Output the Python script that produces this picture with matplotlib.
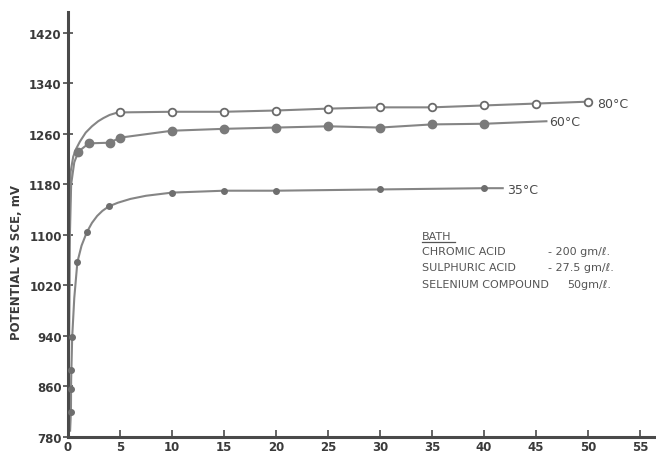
import matplotlib
matplotlib.use('Agg')
import matplotlib.pyplot as plt

# 80 C - open circles
x80 = [5, 10, 15, 20, 25, 30, 35, 40, 45, 50]
y80 = [1294, 1295, 1295, 1297, 1300, 1302, 1302, 1305, 1308, 1311]
# hand drawn curve
c80_x = [0.05, 0.1, 0.15, 0.25, 0.5, 0.8, 1.15, 1.7, 2.3, 2.9, 3.4, 4.0, 4.6, 5,
         10, 15, 20, 25, 30, 35, 40, 45, 50]
c80_y = [800, 950, 1120, 1200, 1224, 1237, 1248, 1262, 1272, 1280, 1285, 1290, 1293, 1294,
         1295, 1295, 1297, 1300, 1302, 1302, 1305, 1308, 1311]

# 60 C - filled circles
x60 = [1, 2, 4, 5, 10, 15, 20, 25, 30, 35, 40]
y60 = [1232, 1245, 1246, 1254, 1265, 1268, 1270, 1272, 1270, 1275, 1276]
c60_x = [0.05, 0.1, 0.15, 0.3, 0.6, 1, 2, 4, 5, 10, 15, 20, 25, 30, 35, 40, 46]
c60_y = [800, 930, 1080, 1180, 1215, 1232, 1245, 1246, 1254, 1265, 1268, 1270, 1272, 1270, 1275, 1276, 1280]

# 35 C - small dots
x35 = [0.3, 0.3, 0.3, 0.4, 0.9, 1.8, 3.9, 10, 15, 20, 30, 40]
y35 = [820, 856, 886, 938, 1057, 1104, 1145, 1167, 1170, 1170, 1172, 1174]
c35_x = [0.2, 0.28, 0.3, 0.4, 0.6, 0.9, 1.3, 1.8, 2.3, 2.8, 3.3, 3.9, 4.8, 6, 7.5, 10,
         15, 20, 30, 40, 41.8]
c35_y = [790, 820, 870, 938, 1000, 1057, 1083, 1104, 1119, 1130, 1138, 1145, 1151, 1157, 1162, 1167,
         1170, 1170, 1172, 1174, 1174]

xticks = [0, 5, 10, 15, 20, 25, 30, 35, 40, 45, 50, 55]
yticks = [780, 860, 940, 1020, 1100, 1180, 1260, 1340, 1420]

bath_names = ['CHROMIC ACID', 'SULPHURIC ACID', 'SELENIUM COMPOUND']
bath_amounts = ['- 200 gm/ℓ.', '- 27.5 gm/ℓ.', '50gm/ℓ.']

line_col = '#858585'
ink = '#4a4a4a'

fig = plt.figure(figsize=[6.56, 4.56], dpi=100)
ax = fig.add_axes([0.1037, 0.0395, 0.8957, 0.932])

ax.plot(c80_x, c80_y, color=line_col, lw=1.5, zorder=2)
ax.plot(c60_x, c60_y, color=line_col, lw=1.5, zorder=2)
ax.plot(c35_x, c35_y, color=line_col, lw=1.5, zorder=2)

ax.plot(x80, y80, 'o', ms=5.5, mfc='white', mec='#6a6a6a', mew=1.3, zorder=3)
ax.plot(x60, y60, 'o', ms=6, color='#7a7a7a', zorder=3)
ax.plot(x35, y35, 'o', ms=4, color='#6e6e6e', zorder=3)

ax.set_xlim(0, 56.5)
ax.set_ylim(780, 1453)

for s in ['top', 'right']:
    ax.spines[s].set_visible(False)
for s in ['left', 'bottom']:
    ax.spines[s].set_color(ink)
    ax.spines[s].set_linewidth(2.2)

ax.set_xticks(xticks)
ax.set_yticks(yticks)
ax.tick_params(axis='x', direction='in', length=5, width=1.2, color=ink, pad=2,
               labelsize=8.5, labelcolor='#3a3a3a')
ax.tick_params(axis='y', direction='inout', length=7, width=1.2, color=ink, pad=1,
               labelsize=8.5, labelcolor='#3a3a3a')
for lab in ax.get_xticklabels() + ax.get_yticklabels():
    lab.set_fontweight('bold')

fig.text(17 / 656, 1 - 262 / 456, 'POTENTIAL VS SCE, mV', rotation=90, ha='center', va='center',
         fontsize=8.5, fontweight='bold', color='#3a3a3a')

ax.text(50.9, 1308, '80°C', fontsize=9, color='#4a4a4a', va='center')
ax.text(46.3, 1280, '60°C', fontsize=9, color='#4a4a4a', va='center')
ax.text(42.2, 1172, '35°C', fontsize=9, color='#4a4a4a', va='center')

# bath box
ax.text(34.0, 1098, 'BATH', fontsize=8, color='#555555', va='center')
ax.plot([34.0, 37.2], [1088, 1088], color='#555555', lw=0.9)
rows = [1075, 1049, 1022]
for i in range(3):
    ax.text(34.0, rows[i], bath_names[i], fontsize=8, color='#555555', va='center')
ax.text(46.2, rows[0], bath_amounts[0], fontsize=8, color='#555555', va='center')
ax.text(46.2, rows[1], bath_amounts[1], fontsize=8, color='#555555', va='center')
ax.text(48.0, rows[2], bath_amounts[2], fontsize=8, color='#555555', va='center')

plt.savefig('out.png', dpi=100)
